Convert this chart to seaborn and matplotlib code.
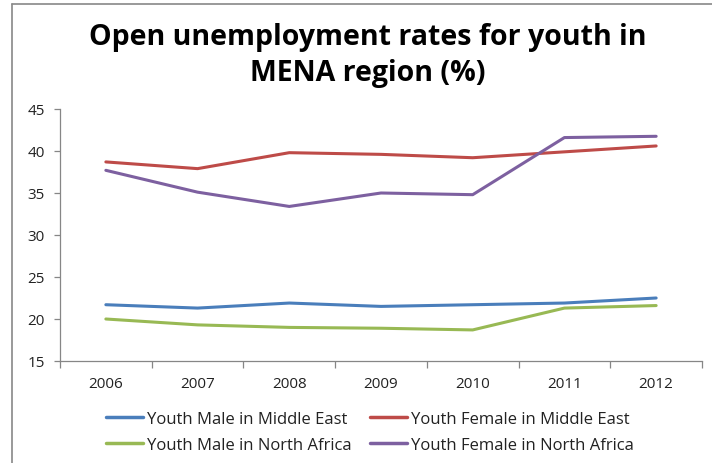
import pandas as pd
import numpy as np
import matplotlib.pyplot as plt
import seaborn as sns
from matplotlib.lines import Line2D
from matplotlib.ticker import FixedLocator

# data
YEARS = [2006, 2007, 2008, 2009, 2010, 2011, 2012]
MALE_ME = [21.7, 21.3, 21.9, 21.5, 21.7, 21.9, 22.5]
FEMALE_ME = [38.7, 37.9, 39.8, 39.6, 39.2, 39.9, 40.6]
MALE_NA = [20.0, 19.3, 19.0, 18.9, 18.7, 21.3, 21.6]
FEMALE_NA = [37.7, 35.1, 33.4, 35.0, 34.8, 41.6, 41.75]

SERIES = ['Youth Male in Middle East', 'Youth Female in Middle East',
          'Youth Male in North Africa', 'Youth Female in North Africa']
COLORS = {SERIES[0]: '#4A7EBB', SERIES[1]: '#BE4B48',
          SERIES[2]: '#98B954', SERIES[3]: '#7D60A0'}

rows = []
for name, vals in zip(SERIES, [MALE_ME, FEMALE_ME, MALE_NA, FEMALE_NA]):
    for yr, v in zip(YEARS, vals):
        rows.append({'Year': yr, 'Rate': v, 'Series': name})
df = pd.DataFrame(rows)

sns.set_theme(style="white")
plt.rcParams['font.family'] = ['Open Sans', 'DejaVu Sans']

fig = plt.figure(figsize=(7.12, 4.64), dpi=100)
ax = fig.add_axes([60 / 712, 1 - 362 / 464, 642 / 712, 252 / 464])

sns.lineplot(data=df, x='Year', y='Rate', hue='Series', hue_order=SERIES,
             palette=COLORS, linewidth=2.2, ax=ax, legend=False)

ax.set_xlim(2005.5, 2012.5)
ax.set_ylim(15, 45)
ax.set_yticks(range(15, 46, 5))
ax.set_xticks(YEARS)
ax.xaxis.set_minor_locator(FixedLocator(np.arange(2005.5, 2013, 1)))
ax.set_xlabel('')
ax.set_ylabel('')

for side in ['top', 'right']:
    ax.spines[side].set_visible(False)
for side in ['left', 'bottom']:
    ax.spines[side].set_color('#868686')
    ax.spines[side].set_linewidth(0.9)

ax.tick_params(axis='y', which='major', direction='out', length=4, width=0.9,
               color='#868686', labelsize=11, labelcolor='#222222', pad=7, left=True)
ax.tick_params(axis='x', which='major', length=0, labelsize=11,
               labelcolor='#222222', pad=11)
ax.tick_params(axis='x', which='minor', direction='out', length=5, width=0.9,
               color='#868686', bottom=True)

fig.text(368 / 712, 1 - 38 / 464, 'Open unemployment rates for youth in',
         ha='center', va='center', fontsize=20.5, fontweight='bold', color='black')
fig.text(368 / 712, 1 - 74 / 464, 'MENA region (%)',
         ha='center', va='center', fontsize=20.5, fontweight='bold', color='black')

# legend: two rows, two columns
handles = [Line2D([], [], color=COLORS[s], lw=2.5) for s in SERIES]
order = [0, 2, 1, 3]
fig.legend([handles[i] for i in order], [SERIES[i] for i in order],
           ncol=2, loc='center', bbox_to_anchor=(370 / 712, 1 - 433 / 464),
           frameon=False, fontsize=12, handlelength=2.2, handletextpad=0.25,
           columnspacing=1.1, labelspacing=0.6, labelcolor='#222222')

# chart area border (left and top edges visible in the reference)
fig.add_artist(Line2D([12 / 712, 12 / 712], [0, 1 - 5 / 464], color='#888888', lw=1.2))
fig.add_artist(Line2D([12 / 712, 1], [1 - 5 / 464, 1 - 5 / 464], color='#888888', lw=1.2))

fig.savefig('out.png', dpi=100)
